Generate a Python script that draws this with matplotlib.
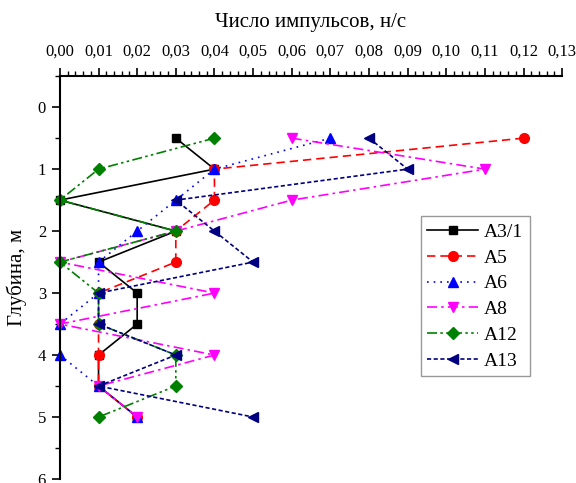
import matplotlib.pyplot as plt
from matplotlib.ticker import MultipleLocator, FuncFormatter

plt.rcParams['font.family'] = ['Liberation Serif', 'DejaVu Serif']

depth = [0.5, 1.0, 1.5, 2.0, 2.5, 3.0, 3.5, 4.0, 4.5, 5.0]

a3_1 = [0.03, 0.04, 0.00, 0.03, 0.01, 0.02, 0.02, 0.01, 0.01, 0.02]
a5 = [0.12, 0.04, 0.04, 0.03, 0.03, 0.01, 0.01, 0.01, 0.01, 0.02]
a6 = [0.07, 0.04, 0.03, 0.02, 0.01, 0.01, 0.00, 0.00, 0.01, 0.02]
a8 = [0.06, 0.11, 0.06, 0.03, 0.00, 0.04, 0.00, 0.04, 0.01, 0.02]
a12 = [0.04, 0.01, 0.00, 0.03, 0.00, 0.01, 0.01, 0.03, 0.03, 0.01]
a13 = [0.08, 0.09, 0.03, 0.04, 0.05, 0.01, 0.01, 0.03, 0.01, 0.05]

names = ['A3/1', 'A5', 'A6', 'A8', 'A12', 'A13']
series = [a3_1, a5, a6, a8, a12, a13]
colors = ['black', '#ff0000', '#0000ff', '#ff00ff', '#008000', '#000080']
markers = ['s', 'o', '^', 'v', 'D', '<']
styles = ['-', (0, (5, 3)), (0, (1, 3)), (0, (6, 2.5, 1.5, 2.5)),
          (0, (6, 2, 1.5, 2, 1.5, 2)), (0, (2.5, 1.5))]
msizes = [6, 7, 7.5, 7.5, 6, 7.5]

fig = plt.figure(figsize=(5.76, 4.83), dpi=100)
ax = fig.add_axes([0.104, 0.0083, 0.872, 0.834])

for vals, name, c, m, ls, ms in zip(series, names, colors, markers, styles, msizes):
    ax.plot(vals, depth, color=c, marker=m, linestyle=ls, linewidth=1.2,
            markersize=ms, label=name, clip_on=False)

ax.set_xlim(0, 0.13)
ax.set_ylim(6, -0.5)

ax.spines['right'].set_visible(False)
ax.spines['bottom'].set_visible(False)
ax.spines['left'].set_linewidth(1.5)
ax.spines['top'].set_linewidth(1.5)

ax.xaxis.set_ticks_position('top')
ax.xaxis.set_label_position('top')
ax.xaxis.set_major_locator(MultipleLocator(0.01))
ax.xaxis.set_minor_locator(MultipleLocator(0.002))
ax.xaxis.set_major_formatter(FuncFormatter(lambda v, p: f'{v:.2f}'.replace('.', ',')))
ax.yaxis.set_minor_locator(MultipleLocator(0.5))
ax.set_yticks([0, 1, 2, 3, 4, 5, 6])

ax.tick_params(axis='both', which='major', direction='out', length=6, width=1.2,
               labelsize=12, pad=4)
ax.tick_params(axis='x', which='major', pad=6)
ax.tick_params(axis='both', which='minor', direction='out', length=3.5, width=1.0)

ax.set_xlabel('Число импульсов, н/с', fontsize=15, labelpad=12)
ax.set_ylabel('Глубина, м', fontsize=15, labelpad=8)

leg = ax.legend(loc='upper left', bbox_to_anchor=(0.718, 0.652), fontsize=14,
                frameon=True, fancybox=False, edgecolor='gray', handlelength=2.6,
                borderpad=0.35, labelspacing=0.42, handletextpad=0.3,
                borderaxespad=0)
leg.get_frame().set_linewidth(1.0)

fig.savefig('out.png', dpi=100)
